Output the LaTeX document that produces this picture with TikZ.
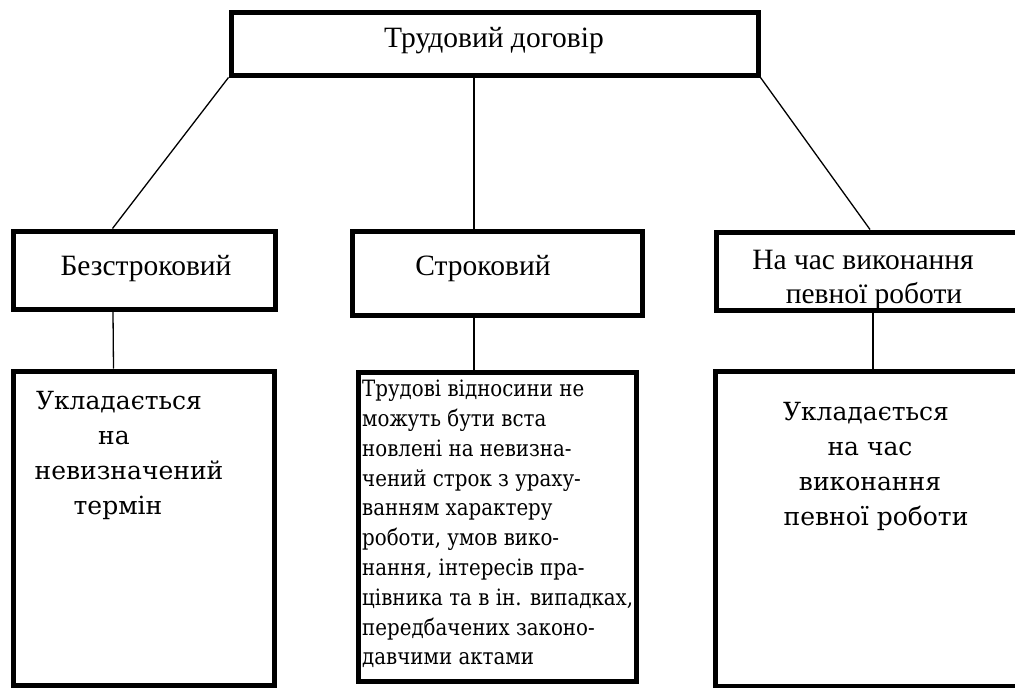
\documentclass[tikz,border=0pt]{standalone}
\usepackage{fontspec}
\setmainfont{Liberation Serif}
\newfontfamily\lowfont{DejaVu Serif}
\newfontfamily\midfont[FakeStretch=0.88]{DejaVu Serif}
\begin{document}
\begin{tikzpicture}[x=1pt,y=-1pt,
  box/.style={draw=black,line width=5pt,rectangle,inner sep=0pt,fill=white},
  link/.style={draw=black,line width=1.3pt},
  head/.style={font=\fontsize{29.5}{34}\selectfont,inner sep=0pt,align=center},
  lowtxt/.style={font=\lowfont\fontsize{25}{35}\selectfont,inner sep=0pt,align=center},
  midtxt/.style={font=\midfont\fontsize{22.5}{29.8}\selectfont,inner sep=0pt,align=left}]
\useasboundingbox (0,0) rectangle (1015,688);
\clip (0,0) rectangle (1015,688);
% boxes
\node[box,minimum width=527pt,minimum height=63pt] (top) at (494.5,43.5) {};
\node[box,minimum width=262pt,minimum height=78pt] (b1) at (144,270) {};
\node[box,minimum width=290pt,minimum height=84pt] (b2) at (497,273) {};
\node[box,minimum width=320pt,minimum height=78pt] (b3) at (876,271) {};
\node[box,minimum width=261pt,minimum height=314pt] (c1) at (143.5,528) {};
\node[box,minimum width=278pt,minimum height=309pt] (c2) at (497,526.5) {};
\node[box,minimum width=320pt,minimum height=315pt] (c3) at (875,528.5) {};
% texts
\node[head] (ttop) at (494,41) {Трудовий договір};
\node[head] (tb1) at (146,269) {Безстроковий};
\node[head] (tb2) at (483,269) {Строковий};
\node[head] (tb3) at (863,280) {На час виконання\\\hspace*{22pt}певної роботи};
\node[lowtxt,anchor=north] (tc1) at (122,391) {\hspace*{-6pt}Укладається\\\hspace*{-16pt}на\\\hspace*{14pt}невизначений\\\hspace*{-8pt}термін};
\node[lowtxt,anchor=north] (tc3) at (870,402) {\hspace*{-8pt}Укладається\\на час\\виконання\\\hspace*{12pt}певної роботи};
\node[midtxt,anchor=north west] (tc2) at (362,380) {Трудові відносини не\\можуть бути вста\\новлені на невизна-\\чений строк з ураху-\\ванням характеру\\роботи, умов вико-\\нання, інтересів пра-\\цівника та в ін. випадках,\\передбачених законо-\\давчими актами};
% connectors
\draw[link] (top.south west) -- ([xshift=102pt]b1.north west);
\draw[link] (top.south -| b2.north) ++(-23pt,0) -- ([xshift=-23pt]b2.north);
\draw[link] (top.south east) -- ([xshift=-6pt]b3.north);
\draw[link] ([xshift=-31pt]b1.south) -- ([xshift=-30pt]c1.north);
\draw[link] ([xshift=-23pt]b2.south) -- ([xshift=-23pt]c2.north);
\draw[link] ([xshift=-3pt]b3.south) -- ([xshift=-2pt]c3.north);
\end{tikzpicture}
\end{document}
